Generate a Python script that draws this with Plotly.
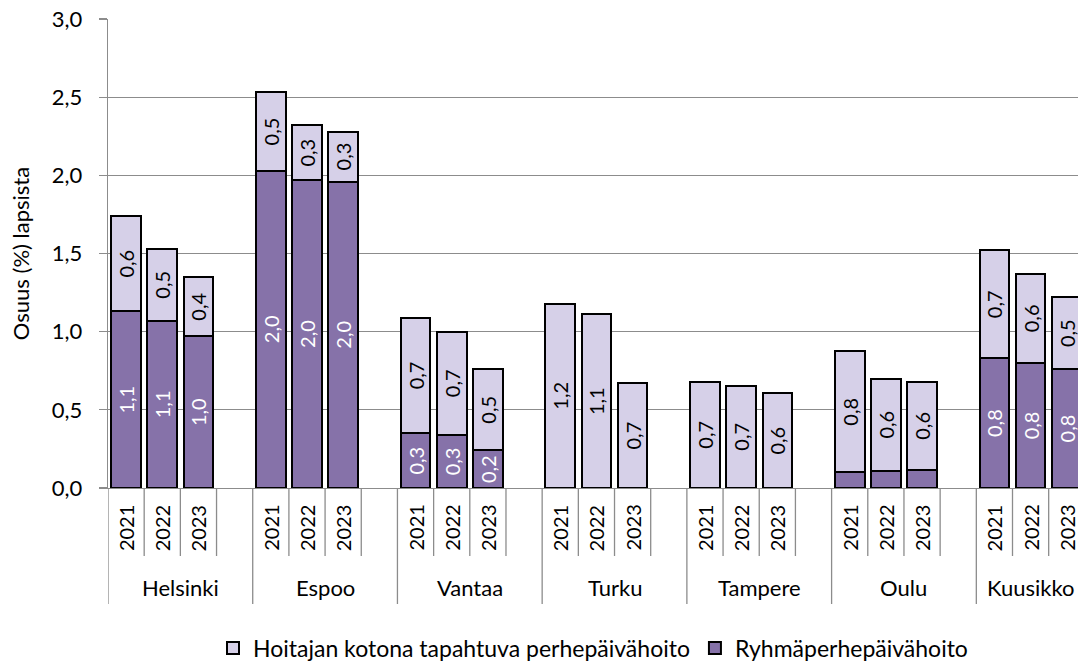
import plotly.graph_objects as go

cities = ["Helsinki", "Espoo", "Vantaa", "Turku", "Tampere", "Oulu", "Kuusikko"]
years = ["2021", "2022", "2023"]

# Ryhmäperhepäivähoito (dark, bottom segment), per city x year
ryhma = [
    [1.13, 1.07, 0.97],
    [2.03, 1.97, 1.96],
    [0.35, 0.34, 0.24],
    [0.0, 0.0, 0.0],
    [0.0, 0.0, 0.0],
    [0.10, 0.11, 0.115],
    [0.83, 0.80, 0.76],
]
# Hoitajan kotona tapahtuva perhepäivähoito (light, top segment)
kotona = [
    [0.61, 0.46, 0.38],
    [0.50, 0.35, 0.32],
    [0.74, 0.66, 0.52],
    [1.18, 1.11, 0.67],
    [0.68, 0.655, 0.605],
    [0.775, 0.59, 0.565],
    [0.69, 0.57, 0.46],
]

name_light = "Hoitajan kotona tapahtuva perhepäivähoito"
name_dark = "Ryhmäperhepäivähoito"
y_title = "Osuus (%) lapsista"
y_ticks = [0, 0.5, 1.0, 1.5, 2.0, 2.5, 3.0]

FONT = "Lato"
DARK = "#8672A9"
LIGHT = "#D6D0E8"
GRID = "#8C8C8C"

slots_per_group = len(years) + 1  # one empty slot between cities

xs, dark_vals, light_vals = [], [], []
for ci, c in enumerate(cities):
    for yi, y in enumerate(years):
        xs.append(ci * slots_per_group + yi)
        dark_vals.append(ryhma[ci][yi])
        light_vals.append(kotona[ci][yi])


def lab(v):
    return f"{v:.1f}".replace(".", ",") if v >= 0.2 else ""


fig = go.Figure()
fig.add_trace(go.Bar(
    x=xs, y=dark_vals, name=name_dark, width=0.82,
    marker=dict(color=DARK, line=dict(color="black", width=2)),
    text=[lab(v) for v in dark_vals], textposition="inside",
    insidetextanchor="middle", textangle=-90, constraintext="none",
    textfont=dict(family=FONT, size=20, color="white"),
    hoverinfo="skip",
))
fig.add_trace(go.Bar(
    x=xs, y=light_vals, name=name_light, width=0.82,
    marker=dict(color=LIGHT, line=dict(color="black", width=2)),
    text=[lab(v) for v in light_vals], textposition="inside",
    insidetextanchor="middle", textangle=-90, constraintext="none",
    textfont=dict(family=FONT, size=20, color="black"),
    hoverinfo="skip",
))

W, H = 1078, 661
ML, MT, MB = 108, 19, 173
plot_h = H - MT - MB
slot_px = 36.18
plot_w = W - ML
x0 = -0.5
x1 = x0 + plot_w / slot_px


def py(px_below):
    return -px_below / plot_h


shapes = []
annotations = []
last_x = xs[-1]
for ci, c in enumerate(cities):
    start = ci * slots_per_group - 0.5
    end = (ci + 1) * slots_per_group - 0.5 if ci < len(cities) - 1 else last_x + 0.5
    shapes.append(dict(type="line", xref="x", yref="paper", x0=start, x1=start,
                       y0=0, y1=py(116), line=dict(color=GRID, width=1.3)))
    for yi, y in enumerate(years):
        xc = ci * slots_per_group + yi
        if yi < len(years) - 1 or ci < len(cities) - 1:
            shapes.append(dict(type="line", xref="x", yref="paper", x0=xc + 0.5, x1=xc + 0.5,
                               y0=0, y1=py(68), line=dict(color=GRID, width=1.3)))
        annotations.append(dict(x=xc, y=py(40), xref="x", yref="paper", text=y,
                                showarrow=False, textangle=-90, xanchor="center", yanchor="middle",
                                font=dict(family=FONT, size=20, color="black")))
    annotations.append(dict(x=(start + end) / 2, y=py(99), xref="x", yref="paper", text=c,
                            showarrow=False, xanchor="center", yanchor="middle",
                            font=dict(family=FONT, size=22, color="black")))

fig.update_layout(
    width=W, height=H, barmode="stack",
    margin=dict(l=ML, r=0, t=MT, b=MB, pad=0, autoexpand=False),
    plot_bgcolor="white", paper_bgcolor="white",
    font=dict(family=FONT, size=22, color="black"),
    showlegend=True,
    legend=dict(orientation="h", x=0.5, xanchor="center", y=py(160), yanchor="middle",
                traceorder="reversed", font=dict(family=FONT, size=23, color="black"),
                itemwidth=30),
    shapes=shapes, annotations=annotations,
    xaxis=dict(range=[x0, x1], showticklabels=False, ticks="", showgrid=False,
               zeroline=False, showline=True, linecolor=GRID, linewidth=1.3, fixedrange=True),
    yaxis=dict(range=[0, 3.0], tickvals=y_ticks,
               ticktext=[f"{v:.1f}".replace(".", ",") for v in y_ticks],
               showgrid=True, gridcolor=GRID, gridwidth=1.3, zeroline=False,
               showline=True, linecolor=GRID, linewidth=1.3,
               ticks="outside", ticklen=8, tickcolor=GRID, tickwidth=1.3,
               tickfont=dict(family=FONT, size=22), ticklabelstandoff=12,
               title=dict(text=y_title, font=dict(family=FONT, size=22), standoff=16),
               fixedrange=True),
    bargap=0,
)

fig.write_html("out.html", config={"displayModeBar": False, "staticPlot": True},
               post_script="document.body.style.margin='0';document.body.style.overflow='hidden';")
